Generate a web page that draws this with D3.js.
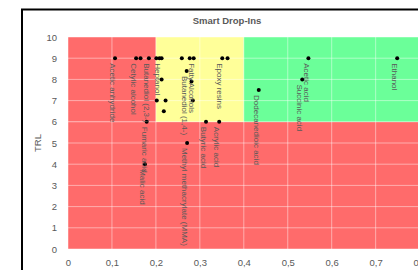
<!DOCTYPE html>
<html><head><meta charset="utf-8">
<script src="https://cdn.jsdelivr.net/npm/d3@7"></script>
<style>body{margin:0;background:#fff}svg{display:block}</style>
</head><body>
<script>
// Data
const names = ["Acetic anhydride","Cetylic alcohol","","Butanediol (2,3-)","","Heptanol","","","","Fatty Alcohols","Epoxy resins","","Acetic acid","Ethanol",
  "","","","","","","Butanediol (1,4-)","Fumaric acid","Methyl methacrylate (MMA)","Malic acid","Butyric acid","Acrylic acid","Dodecanedioic acid","Succinic acid"];
const xValues = [0.107,0.155,0.165,0.184,0.201,0.208,0.213,0.259,0.277,0.286,0.351,0.363,0.547,0.749,
  0.213,0.202,0.222,0.218,0.281,0.284,0.270,0.179,0.271,0.175,0.314,0.344,0.434,0.533];
const yValues = [9,9,9,9,9,9,9,9,9,9,9,9,9,9,
  8,7,7,6.5,7.9,7,8.4,6,5,4,6,6,7.5,8];
const xTicks = [0,0.1,0.2,0.3,0.4,0.5,0.6,0.7,0.8];
const yTicks = [0,1,2,3,4,5,6,7,8,9,10];
// Zones
const zoneX0 = [0, 0, 0.2, 0.4];
const zoneX1 = [1, 0.2, 0.4, 1];
const zoneY0 = [0, 6, 6, 6];
const zoneY1 = [6, 10, 10, 10];
const zoneColor = ["#FF6B6B","#FF6B6B","#FFFF99","#6BFF99"];

const W = 418, H = 270;
const FONT = "'Liberation Sans', Arial, sans-serif";
const svg = d3.select("body").append("svg").attr("width", W).attr("height", H);
const x = d3.scaleLinear().domain([0, 1]).range([68, 507.5]);
const y = d3.scaleLinear().domain([0, 10]).range([249, 37]);

// chart border
svg.append("rect").attr("x", 22).attr("y", 9.5).attr("width", 500).attr("height", 400)
  .attr("fill", "#fff").attr("stroke", "#000").attr("stroke-width", 2);

// zones
svg.selectAll("rect.zone").data(zoneX0).enter().append("rect").attr("class", "zone")
  .attr("x", (d, i) => x(zoneX0[i]))
  .attr("y", (d, i) => y(zoneY1[i]))
  .attr("width", (d, i) => x(zoneX1[i]) - x(zoneX0[i]))
  .attr("height", (d, i) => y(zoneY0[i]) - y(zoneY1[i]))
  .attr("fill", (d, i) => zoneColor[i]);

// gridlines
const grid = svg.append("g");
grid.selectAll("line.h").data(yTicks).enter().append("line")
  .attr("x1", x(0)).attr("x2", x(1)).attr("y1", d => y(d)).attr("y2", d => y(d))
  .attr("stroke", "rgba(255,255,255,0.45)").attr("stroke-width", 1);
grid.selectAll("line.v").data(xTicks).enter().append("line")
  .attr("y1", y(0)).attr("y2", y(10)).attr("x1", d => x(d)).attr("x2", d => x(d))
  .attr("stroke", "rgba(255,255,255,0.45)").attr("stroke-width", 1);

// axes
const fmt = d => d === 0 ? "0" : d3.format(".1f")(d).replace(".", ",");
const xAxis = svg.append("g").attr("transform", `translate(0,${y(0)})`)
  .call(d3.axisBottom(x).tickValues(xTicks).tickFormat(fmt).tickSize(0).tickPadding(10));
xAxis.select(".domain").remove();
xAxis.selectAll("text").attr("fill", "#595959").style("font-family", FONT).style("font-size", "9.5px");
const yAxis = svg.append("g").attr("transform", `translate(${x(0)},0)`)
  .call(d3.axisLeft(y).tickValues(yTicks).tickFormat(d3.format("d")).tickSize(0).tickPadding(11));
yAxis.select(".domain").remove();
yAxis.selectAll("text").attr("fill", "#595959").style("font-family", FONT).style("font-size", "9.5px");

// titles
svg.append("text").attr("x", 227).attr("y", 24).attr("text-anchor", "middle")
  .attr("fill", "#595959").style("font-family", FONT)
  .style("font-size", "9.5px").style("font-weight", "bold").text("Smart Drop-Ins");
svg.append("text").attr("transform", `translate(41,${(y(0) + y(10)) / 2}) rotate(-90)`)
  .attr("text-anchor", "middle").attr("fill", "#595959")
  .style("font-family", FONT).style("font-size", "9.5px").text("TRL");

// points
const idx = d3.range(xValues.length);
svg.selectAll("circle.pt").data(idx).enter().append("circle")
  .attr("cx", i => x(xValues[i])).attr("cy", i => y(yValues[i])).attr("r", 2).attr("fill", "#000");

// labels
svg.selectAll("text.lbl").data(idx.filter(i => names[i])).enter().append("text")
  .attr("transform", i => `translate(${x(xValues[i]) - 2},${y(yValues[i]) + 5}) rotate(90)`)
  .attr("dy", "0.35em").attr("fill", "#595959")
  .style("font-family", "'Liberation Sans Narrow', 'Liberation Sans', Arial, sans-serif")
  .style("font-size", "8px").text(i => names[i]);
</script>
</body></html>
